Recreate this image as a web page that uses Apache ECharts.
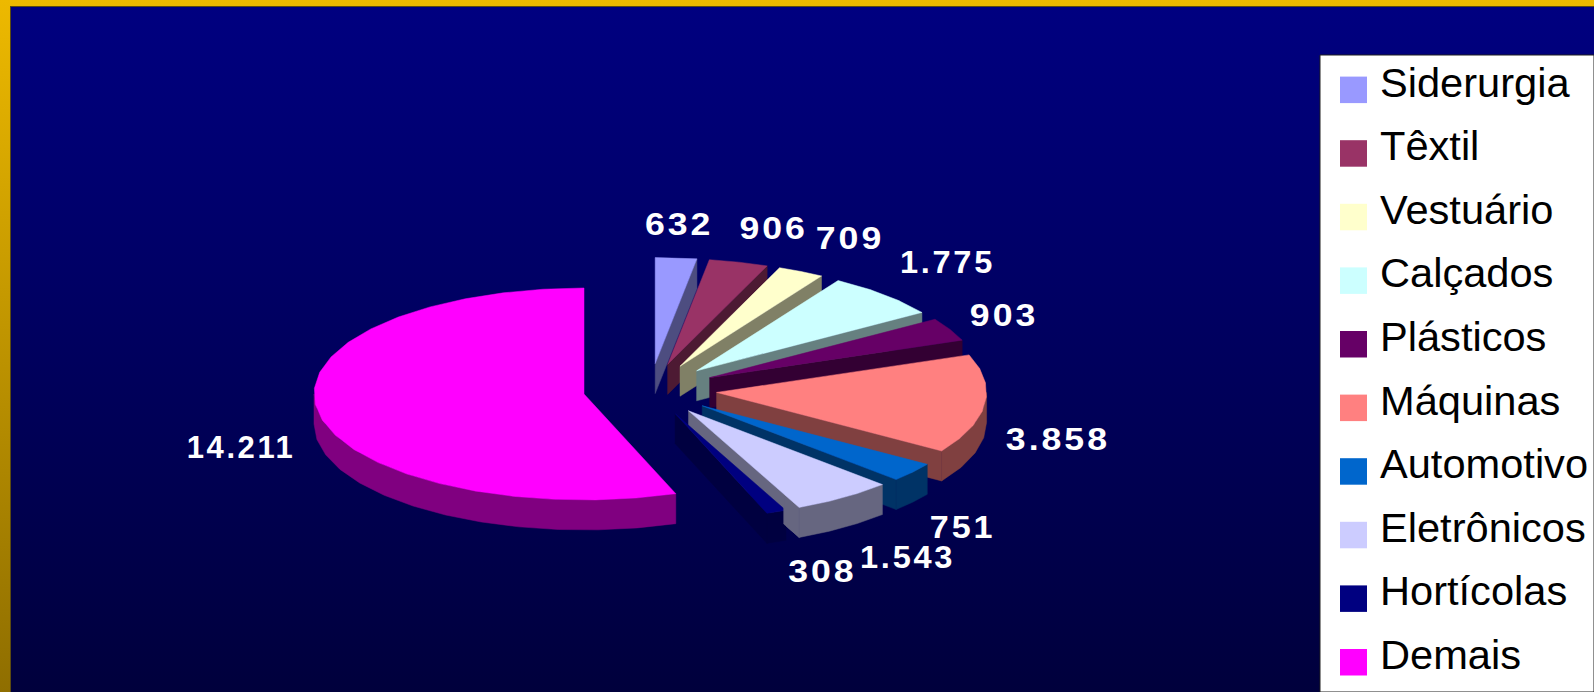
<!DOCTYPE html>
<html>
<head>
<meta charset="utf-8">
<style>
html,body{margin:0;padding:0;background:#000040;overflow:hidden}
#c{width:1594px;height:692px}
#c svg text[style*="bold"]{letter-spacing:2.6px}
</style>
<script src="https://cdn.jsdelivr.net/npm/echarts@6/dist/echarts.min.js"></script>
</head>
<body>
<div id="c"></div>
<script>
const categories = ['Siderurgia','Têxtil','Vestuário','Calçados','Plásticos','Máquinas','Automotivo','Eletrônicos','Hortícolas','Demais'];
const values = [632,906,709,1775,903,3858,751,1543,308,14211];
const valueLabels = ['632','906','709','1.775','903','3.858','751','1.543','308','14.211'];
const colors = ['#9999FF','#993366','#FFFFCC','#CCFFFF','#660066','#FF8080','#0066CC','#CCCCFF','#000080','#FF00FF'];

// layout of the tilted, exploded pie: slice index + layer (0 all, 1 end cut only, 2 wall/top + front of cut)
const paintOrder = [[0,0],[1,0],[2,0],[3,0],[4,0],[5,0],[6,0],[7,1],[8,0],[7,2],[9,0]];
const labelNudge = [[3,-34],[35,-34],[49,-33],[63,-32],[54,-14],[73,35],[50,55],[64,60],[46,59],[-77,35]];
const labelScale = [1.15,1.15,1.15,1.05,1.15,1.15,1.1,1.05,1.15,1.0];
const P = {cx:650, cy:389.5, rx:270, ry:106, ex:67, ey:26, depth:30, step:9, cutFront:0.86};
const L = {boxX:1320, boxY:55, markX:1340, markY:76.6, markW:27, markH:26.5, pitch:63.6, textX:1380, textUp:7};

const total = values.reduce((a,b)=>a+b,0);
const startDeg = [];
values.reduce((acc,v,i)=>{startDeg[i]=acc; return acc+v/total*360;},0);
const rad = d => d*Math.PI/180;
function shade(hex){
  const n=parseInt(hex.slice(1),16);
  const c=[(n>>16)&255,(n>>8)&255,n&255].map(x=>Math.round(x/2));
  return 'rgb('+c.join(',')+')';
}
function arcPts(ax,ay,a,b,dy){
  const n=Math.max(1,Math.ceil((b-a)/P.step)),pts=[];
  for(let k=0;k<=n;k++){
    const t=rad(a+(b-a)*k/n);
    pts.push([ax+P.rx*Math.sin(t),ay-P.ry*Math.cos(t)+dy]);
  }
  return pts;
}
function renderSlice(params,api){
  const i=api.value(0), v=api.value(1), layer=api.value(2);
  const a=startDeg[i], b=a+v/total*360, m=rad((a+b)/2);
  const ax=P.cx+P.ex*Math.sin(m), ay=P.cy-P.ey*Math.cos(m);
  const col=colors[i], side=shade(col), kids=[];
  const poly=(pts,fill)=>({type:'polygon',shape:{points:pts},style:{fill:fill,stroke:fill,lineWidth:0.5}});
  if(b<180 && layer!==2){
    const e=arcPts(ax,ay,b,b,0)[0];
    kids.push(poly([[ax,ay],e,[e[0],e[1]+P.depth],[ax,ay+P.depth]],side));
  }
  if(layer===1) return {type:'group',children:kids};
  if(layer===2){
    const e=arcPts(ax,ay,b,b,0)[0], f=[ax+(e[0]-ax)*P.cutFront, ay+(e[1]-ay)*P.cutFront];
    kids.push(poly([f,e,[e[0],e[1]+P.depth],[f[0],f[1]+P.depth]],side));
  }
  const wa=Math.max(a,90), wb=Math.min(b,270);
  if(wb>wa){
    kids.push(poly(arcPts(ax,ay,wa,wb,0).concat(arcPts(ax,ay,wa,wb,P.depth).reverse()),side));
  }
  kids.push(poly([[ax,ay]].concat(arcPts(ax,ay,a,b,0)),col));
  const ox=P.cx+(P.rx+P.ex)*Math.sin(m), oy=P.cy-(P.ry+P.ey)*Math.cos(m);
  kids.push({type:'text',x:ox+labelNudge[i][0],y:oy+labelNudge[i][1],scaleX:labelScale[i],z2:50,
    style:{text:valueLabels[i],fill:'#FFFFFF',fontFamily:'Liberation Sans',fontWeight:'bold',fontSize:31,align:'center',verticalAlign:'middle'}});
  return {type:'group',children:kids};
}
function renderLegend(params,api){
  const i=api.value(0), y=L.markY+L.pitch*i;
  return {type:'group',children:[
    {type:'rect',shape:{x:L.markX,y:y,width:L.markW,height:L.markH},style:{fill:colors[i]}},
    {type:'text',x:L.textX,y:y+L.markH/2-L.textUp,scaleX:1.04,
     style:{text:categories[i],fill:'#000000',fontFamily:'Liberation Sans',fontSize:40,align:'left',verticalAlign:'middle'}}
  ]};
}
const chart=echarts.init(document.getElementById('c'),null,{renderer:'svg'});
chart.setOption({
  animation:false,
  backgroundColor:{type:'linear',x:0,y:0,x2:0,y2:1,colorStops:[{offset:0,color:'#EDB900'},{offset:1,color:'#8F6E00'}]},
  graphic:[
    {type:'rect',z:0,silent:true,shape:{x:10,y:6,width:1584,height:686},style:{fill:'#5A4A10'}},
    {type:'rect',z:1,silent:true,shape:{x:11,y:7,width:1583,height:685},
     style:{fill:{type:'linear',x:0,y:0,x2:0,y2:1,colorStops:[{offset:0,color:'#000080'},{offset:1,color:'#00003C'}]}}},
    {type:'rect',z:2,silent:true,shape:{x:L.boxX,y:L.boxY,width:1594-L.boxX,height:692-L.boxY},style:{fill:'#FFFFFF',stroke:'#202020',lineWidth:1}}
  ],
  series:[
    {type:'custom',name:'Exportações',coordinateSystem:'none',z:5,silent:true,renderItem:renderSlice,
     data:paintOrder.map(p=>({name:categories[p[0]],value:[p[0],values[p[0]],p[1]]}))},
    {type:'custom',name:'Legenda',coordinateSystem:'none',z:6,silent:true,renderItem:renderLegend,
     data:categories.map((c,i)=>({name:c,value:[i]}))}
  ]
});
</script>
</body>
</html>
